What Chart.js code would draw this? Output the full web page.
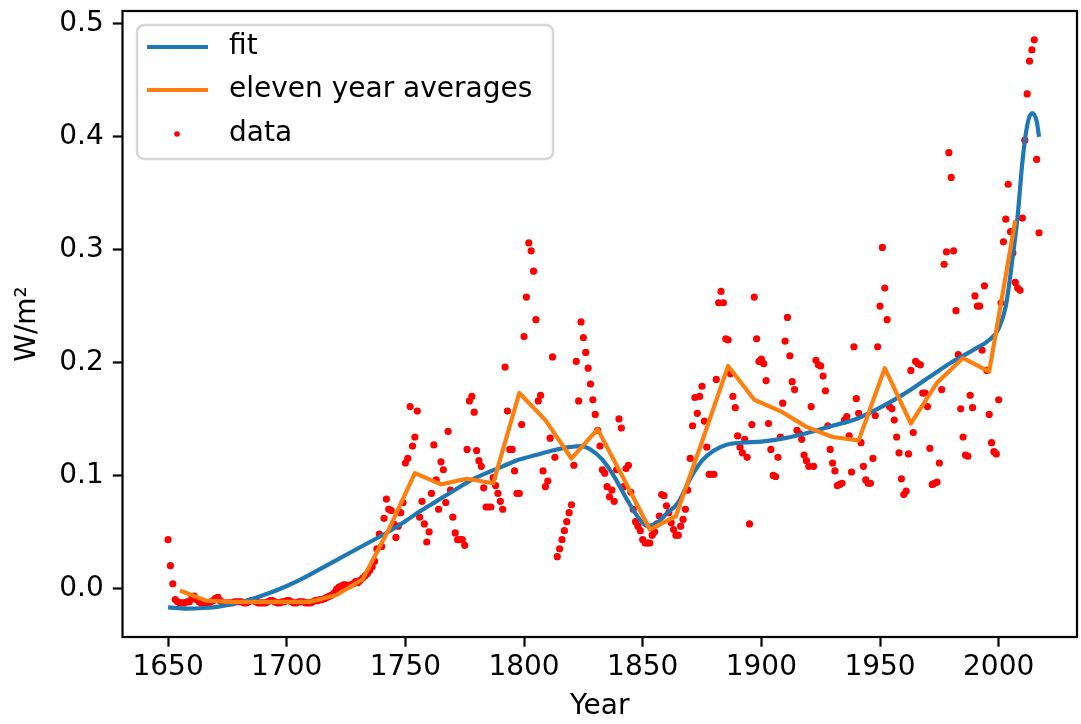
<!DOCTYPE html>
<html>
<head>
<meta charset="utf-8">
<script src="https://cdn.jsdelivr.net/npm/chart.js@4.4.1/dist/chart.umd.min.js"></script>
<style>
  html, body { margin: 0; padding: 0; background: #fff; overflow: hidden; }
  canvas { display: block; }
</style>
</head>
<body>
<canvas id="myChart" width="1081" height="724"></canvas>
<script>
// yearly data points (W/m^2)
const dataYears = [
  1650,1651,1652,1653,1654,1655,1656,1657,1658,1659,
  1660,1661,1662,1663,1664,1665,1666,1667,1668,1669,
  1670,1671,1672,1673,1674,1675,1676,1677,1678,1679,
  1680,1681,1682,1683,1684,1685,1686,1687,1688,1689,
  1690,1691,1692,1693,1694,1695,1696,1697,1698,1699,
  1700,1701,1702,1703,1704,1705,1706,1707,1708,1709,
  1710,1711,1712,1713,1714,1715,1716,1717,1718,1719,
  1720,1721,1722,1723,1724,1725,1726,1727,1728,1729,
  1730,1731,1732,1733,1734,1735,1736,1737,1738,1739,
  1740,1741,1742,1743,1744,1745,1746,1747,1748,1749,
  1750,1751,1752,1753,1754,1755,1756,1757,1758,1759,
  1760,1761,1762,1763,1764,1765,1766,1767,1768,1769,
  1770,1771,1772,1773,1774,1775,1776,1777,1778,1779,
  1780,1781,1782,1783,1784,1785,1786,1787,1788,1789,
  1790,1791,1792,1793,1794,1795,1796,1797,1798,1799,
  1800,1801,1802,1803,1804,1805,1806,1807,1808,1809,
  1810,1811,1812,1813,1814,1815,1816,1817,1818,1819,
  1820,1821,1822,1823,1824,1825,1826,1827,1828,1829,
  1830,1831,1832,1833,1834,1835,1836,1837,1838,1839,
  1840,1841,1842,1843,1844,1845,1846,1847,1848,1849,
  1850,1851,1852,1853,1854,1855,1856,1857,1858,1859,
  1860,1861,1862,1863,1864,1865,1866,1867,1868,1869,
  1870,1871,1872,1873,1874,1875,1876,1877,1878,1879,
  1880,1881,1882,1883,1884,1885,1886,1887,1888,1889,
  1890,1891,1892,1893,1894,1895,1896,1897,1898,1899,
  1900,1901,1902,1903,1904,1905,1906,1907,1908,1909,
  1910,1911,1912,1913,1914,1915,1916,1917,1918,1919,
  1920,1921,1922,1923,1924,1925,1926,1927,1928,1929,
  1930,1931,1932,1933,1934,1935,1936,1937,1938,1939,
  1940,1941,1942,1943,1944,1945,1946,1947,1948,1949,
  1950,1951,1952,1953,1954,1955,1956,1957,1958,1959,
  1960,1961,1962,1963,1964,1965,1966,1967,1968,1969,
  1970,1971,1972,1973,1974,1975,1976,1977,1978,1979,
  1980,1981,1982,1983,1984,1985,1986,1987,1988,1989,
  1990,1991,1992,1993,1994,1995,1996,1997,1998,1999,
  2000,2001,2002,2003,2004,2005,2006,2007,2008,2009,
  2010,2011,2012,2013,2014,2015,2016,2017
];
const dataValues = [
  0.043,0.020,0.004,-0.010,-0.012,-0.013,-0.013,-0.013,-0.012,-0.012,
  -0.009,-0.007,-0.010,-0.012,-0.013,-0.013,-0.013,-0.013,-0.012,-0.011,
  -0.009,-0.008,-0.011,-0.013,-0.013,-0.013,-0.013,-0.013,-0.012,-0.012,
  -0.012,-0.012,-0.013,-0.013,-0.012,-0.011,-0.011,-0.012,-0.013,-0.013,
  -0.013,-0.013,-0.012,-0.011,-0.011,-0.012,-0.013,-0.013,-0.012,-0.012,
  -0.011,-0.011,-0.012,-0.013,-0.013,-0.012,-0.012,-0.012,-0.013,-0.013,
  -0.013,-0.012,-0.011,-0.011,-0.010,-0.010,-0.009,-0.008,-0.007,-0.006,
  -0.004,-0.001,0.001,0.002,0.003,0.003,0.002,0.003,0.004,0.006,
  0.005,0.007,0.009,0.011,0.013,0.016,0.019,0.024,0.035,0.048,
  0.037,0.062,0.079,0.070,0.069,0.057,0.045,0.055,0.067,0.076,
  0.111,0.115,0.161,0.126,0.134,0.157,0.063,0.077,0.057,0.041,
  0.050,0.084,0.127,0.096,0.070,0.112,0.105,0.076,0.139,0.087,
  0.063,0.049,0.043,0.043,0.043,0.038,0.123,0.166,0.170,0.156,
  0.122,0.113,0.108,0.089,0.072,0.072,0.072,0.098,0.091,0.084,
  0.077,0.070,0.196,0.157,0.123,0.123,0.104,0.084,0.084,0.145,
  0.223,0.258,0.306,0.299,0.281,0.238,0.166,0.171,0.104,0.090,
  0.095,0.133,0.205,0.116,0.028,0.035,0.043,0.051,0.059,0.067,
  0.074,0.109,0.201,0.166,0.236,0.222,0.209,0.195,0.181,0.167,
  0.154,0.140,0.126,0.105,0.102,0.090,0.081,0.087,0.077,0.105,
  0.150,0.142,0.090,0.106,0.109,0.085,0.070,0.059,0.055,0.051,
  0.043,0.040,0.040,0.040,0.047,0.050,0.057,0.064,0.083,0.082,
  0.073,0.067,0.058,0.052,0.047,0.047,0.055,0.061,0.070,0.087,
  0.115,0.144,0.169,0.155,0.170,0.179,0.148,0.125,0.101,0.101,
  0.101,0.185,0.253,0.263,0.253,0.221,0.220,0.190,0.170,0.160,
  0.135,0.125,0.120,0.132,0.116,0.057,0.145,0.258,0.221,0.201,
  0.203,0.199,0.184,0.146,0.123,0.100,0.099,0.116,0.134,0.164,
  0.219,0.240,0.206,0.183,0.176,0.140,0.137,0.132,0.118,0.113,
  0.108,0.161,0.108,0.202,0.198,0.197,0.188,0.175,0.144,0.123,
  0.111,0.104,0.091,0.092,0.093,0.149,0.152,0.135,0.103,0.214,
  0.168,0.155,0.129,0.108,0.096,0.093,0.093,0.115,0.153,0.214,
  0.250,0.302,0.266,0.238,0.161,0.159,0.149,0.134,0.120,0.097,
  0.083,0.086,0.119,0.193,0.138,0.201,0.199,0.198,0.173,0.173,
  0.161,0.124,0.092,0.093,0.094,0.111,0.176,0.287,0.298,0.386,
  0.364,0.299,0.246,0.207,0.159,0.134,0.118,0.117,0.171,0.160,
  0.259,0.250,0.250,0.211,0.268,0.193,0.154,0.129,0.121,0.119,
  0.167,0.253,0.307,0.327,0.358,0.316,0.297,0.271,0.266,0.264,
  0.328,0.397,0.438,0.467,0.477,0.486,0.380,0.315
];

// eleven year averages
const avgYears = [1655,1666,1677,1688,1699,1710,1721,1732,1743,1754,1765,
  1776,1787,1798,1809,1820,1831,1842,1853,1864,1875,1886,1897,1908,1919,
  1930,1941,1952,1963,1974,1985,1996,2007];
const avgValues = [-0.002,-0.011,-0.012,-0.012,-0.012,-0.012,-0.006,0.008,0.052,0.102,0.092,
  0.097,0.093,0.173,0.149,0.115,0.141,0.097,0.052,0.064,0.130,0.197,0.167,0.157,0.143,
  0.134,0.131,0.195,0.146,0.182,0.204,0.192,0.326];

// fitted curve
const fitYears = [1650,1658,1665,1672,1679,1686,1693,1700,1707,1714,1721,1728,1735,1742,
  1749,1756,1763,1770,1777,1784,1791,1798,1805,1812,1819,1824,1828,1833,1838,1843,1848,
  1852,1856,1860,1865,1870,1875,1880,1885,1892,1900,1910,1920,1930,1940,1950,1960,1970,
  1980,1990,1996,2000,2003,2006,2008,2010,2012,2014,2016,2017];
const fitValues = [-0.017,-0.018,-0.0175,-0.016,-0.013,-0.009,-0.004,0.002,0.009,0.017,0.025,0.033,0.041,0.049,
  0.058,0.068,0.077,0.086,0.095,0.102,0.108,0.114,0.118,0.122,0.125,0.126,0.123,0.114,0.099,0.080,0.063,
  0.055,0.058,0.066,0.076,0.097,0.113,0.122,0.127,0.129,0.130,0.133,0.138,0.144,0.150,0.160,0.172,0.186,
  0.200,0.212,0.220,0.230,0.250,0.295,0.330,0.378,0.410,0.421,0.414,0.400];

const xTicks = [1650,1700,1750,1800,1850,1900,1950,2000];
const yTicks = [0.0,0.1,0.2,0.3,0.4,0.5];

const FONT = "'DejaVu Sans', 'Liberation Sans', sans-serif";
const FONT_SIZE = 28;
const BLUE = '#1f77b4';
const ORANGE = '#ff7f0e';

function toPoints(xs, ys) {
    return xs.map((x, i) => ({ x: x, y: ys[i] }));
}

// no extra room for tick labels spilling past the plot edges
function noOverflow(scale) {
    scale.paddingTop = 0;
    scale.paddingBottom = 0;
    scale.paddingLeft = 0;
    scale.paddingRight = 0;
}

// full box round the axes, like matplotlib spines
const spinesPlugin = {
    id: 'spines',
    afterDatasetsDraw(chart) {
        const { ctx, chartArea: a } = chart;
        ctx.save();
        ctx.strokeStyle = '#000';
        ctx.lineWidth = 2.2;
        ctx.strokeRect(a.left, a.top, a.right - a.left, a.bottom - a.top);
        ctx.restore();
    }
};

// legend box, matplotlib style
const legendPlugin = {
    id: 'mplLegend',
    afterDraw(chart) {
        const ctx = chart.ctx;
        ctx.save();
        ctx.beginPath();
        if (ctx.roundRect) ctx.roundRect(137, 25, 416, 134, 7);
        else ctx.rect(137, 25, 416, 134);
        ctx.fillStyle = 'rgba(255,255,255,0.8)';
        ctx.fill();
        ctx.strokeStyle = '#d6d6d6';
        ctx.lineWidth = 2.5;
        ctx.stroke();

        const items = [
            { label: 'fit', color: BLUE, y: 47, kind: 'line' },
            { label: 'eleven year averages', color: ORANGE, y: 90, kind: 'line' },
            { label: 'data', color: '#ff0000', y: 134, kind: 'dot' }
        ];
        items.forEach(it => {
            if (it.kind === 'line') {
                ctx.beginPath();
                ctx.moveTo(147, it.y);
                ctx.lineTo(208, it.y);
                ctx.strokeStyle = it.color;
                ctx.lineWidth = 4.2;
                ctx.stroke();
            } else {
                ctx.beginPath();
                ctx.arc(177, it.y, 2.8, 0, Math.PI * 2);
                ctx.fillStyle = it.color;
                ctx.fill();
            }
            ctx.fillStyle = '#000';
            ctx.font = FONT_SIZE + 'px ' + FONT;
            ctx.textAlign = 'left';
            ctx.textBaseline = 'middle';
            ctx.fillText(it.label, 229, it.y);
        });
        ctx.restore();
    }
};

const ctx = document.getElementById('myChart').getContext('2d');

const myChart = new Chart(ctx, {
    type: 'scatter',
    data: {
        datasets: [
            {
                label: 'fit',
                data: toPoints(fitYears, fitValues),
                showLine: true,
                borderColor: BLUE,
                borderWidth: 4.2,
                pointRadius: 0,
                cubicInterpolationMode: 'monotone',
                order: 1
            },
            {
                label: 'eleven year averages',
                data: toPoints(avgYears, avgValues),
                showLine: true,
                borderColor: ORANGE,
                borderWidth: 4.2,
                pointRadius: 0,
                tension: 0,
                borderJoinStyle: 'round',
                order: 0
            },
            {
                label: 'data',
                data: toPoints(dataYears, dataValues),
                showLine: false,
                pointRadius: 3.6,
                pointBorderWidth: 0,
                backgroundColor: '#ff0000',
                borderColor: '#ff0000',
                order: 2
            }
        ]
    },
    options: {
        responsive: false,
        animation: false,
        devicePixelRatio: 1,
        layout: { padding: { left: 0, right: 1, top: 11, bottom: 0 } },
        plugins: {
            legend: { display: false },
            tooltip: { enabled: false }
        },
        scales: {
            x: {
                type: 'linear',
                min: 1630.8,
                max: 2033,
                afterFit: scale => { scale.height = 87; noOverflow(scale); },
                afterBuildTicks: scale => { scale.ticks = xTicks.map(v => ({ value: v })); },
                border: { display: false },
                grid: { drawOnChartArea: false, drawTicks: true, tickLength: 9.7, tickWidth: 2.2, tickColor: '#000' },
                ticks: {
                    padding: 4,
                    color: '#000',
                    font: { family: FONT, size: FONT_SIZE },
                    maxRotation: 0,
                    callback: v => String(v)
                },
                title: {
                    display: true,
                    text: 'Year',
                    color: '#000',
                    font: { family: FONT, size: FONT_SIZE },
                    padding: { top: 0, bottom: 0 }
                }
            },
            y: {
                type: 'linear',
                min: -0.0432,
                max: 0.5115,
                afterFit: scale => { scale.width = 122.5; noOverflow(scale); },
                afterBuildTicks: scale => { scale.ticks = yTicks.map(v => ({ value: v })); },
                border: { display: false },
                grid: { drawOnChartArea: false, drawTicks: true, tickLength: 9.7, tickWidth: 2.2, tickColor: '#000' },
                ticks: {
                    padding: 9,
                    color: '#000',
                    font: { family: FONT, size: FONT_SIZE },
                    callback: v => v.toFixed(1)
                },
                title: {
                    display: true,
                    text: 'W/m²',
                    color: '#000',
                    font: { family: FONT, size: FONT_SIZE },
                    padding: { top: 11, bottom: 0 }
                }
            }
        }
    },
    plugins: [spinesPlugin, legendPlugin]
});
</script>
</body>
</html>
